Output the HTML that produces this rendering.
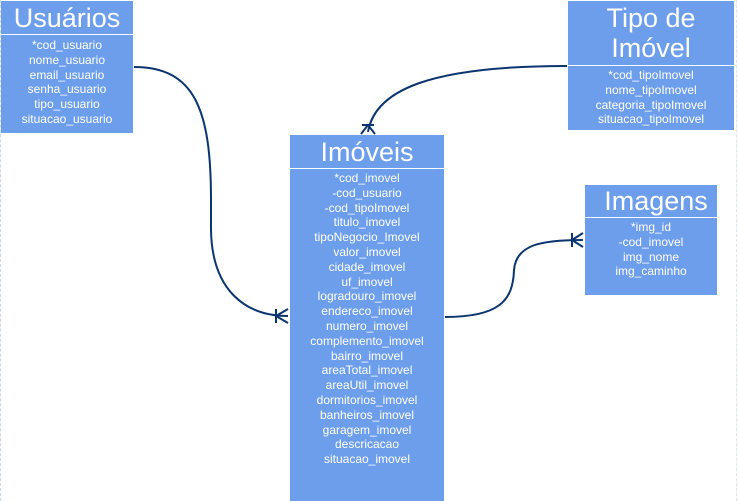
<!DOCTYPE html>
<html><head><meta charset="utf-8"><style>
html,body{margin:0;padding:0;background:#fff;width:739px;height:501px;overflow:hidden;position:relative;font-family:"Liberation Sans",sans-serif;}
.b{position:absolute;background:#6d9eeb;color:#fff;text-align:center;}
.h{border-bottom:1px solid #fff;box-sizing:border-box;}
.r{font-size:12px;line-height:14.8px;}
</style></head><body>
<div style="position:absolute;left:0;top:0;width:0;height:501px;border-left:1px dashed #c9d8f2"></div>
<div style="position:absolute;left:736px;top:0;width:0;height:501px;border-left:1px dashed #d8e2f2"></div>

<div class="b h" style="left:1px;top:1px;width:132px;height:34px;font-size:27px;line-height:34px">Usuários</div>
<div class="b r" style="left:1px;top:35px;width:132px;height:98px;padding-top:3px;box-sizing:border-box">*cod_usuario<br>nome_usuario<br>email_usuario<br>senha_usuario<br>tipo_usuario<br>situacao_usuario</div>

<div class="b h" style="left:568px;top:1px;width:166px;height:65px;font-size:27px;line-height:30px;padding-top:2px">Tipo de<br>Imóvel</div>
<div class="b r" style="left:568px;top:66px;width:166px;height:64px;padding-top:2px;box-sizing:border-box">*cod_tipoImovel<br>nome_tipoImovel<br>categoria_tipoImovel<br>situacao_tipoImovel</div>

<div class="b h" style="left:290px;top:135px;width:154px;height:34px;font-size:27px;line-height:34px">Imóveis</div>
<div class="b r" style="left:290px;top:169px;width:154px;height:332px;padding-top:2px;box-sizing:border-box">*cod_imovel<br>-cod_usuario<br>-cod_tipoImovel<br>titulo_imovel<br>tipoNegocio_Imovel<br>valor_imovel<br>cidade_imovel<br>uf_imovel<br>logradouro_imovel<br>endereco_imovel<br>numero_imovel<br>complemento_imovel<br>bairro_imovel<br>areaTotal_imovel<br>areaUtil_imovel<br>dormitorios_imovel<br>banheiros_imovel<br>garagem_imovel<br>descricacao<br>situacao_imovel</div>

<div class="b h" style="left:585px;top:185px;width:132px;height:33px;font-size:27px;line-height:32px;padding-left:10px;box-sizing:border-box">Imagens</div>
<div class="b r" style="left:585px;top:218px;width:132px;height:77px;padding-top:2px;box-sizing:border-box">*img_id<br>-cod_imovel<br>img_nome<br>img_caminho</div>

<svg width="739" height="501" style="position:absolute;left:0;top:0" fill="none" stroke="#0b3570" stroke-width="2">
<path d="M134 67 C195 67 211 110 211 200 L211 230 C212 290 245 316 288 316"/>
<path d="M276 309 L276 323 M276 316 L288 309 M276 316 L288 323"/>
<path d="M567 66 C430 66 375 90 368 132"/>
<path d="M362 125 L374 125 M368 125 L361 134 M368 125 L375 134"/>
<path d="M445 317 C500 317 513 300 514 270 C516 245 540 240 583 240"/>
<path d="M572 233 L572 247 M572 240 L583 233 M572 240 L583 247"/>
</svg>
</body></html>
